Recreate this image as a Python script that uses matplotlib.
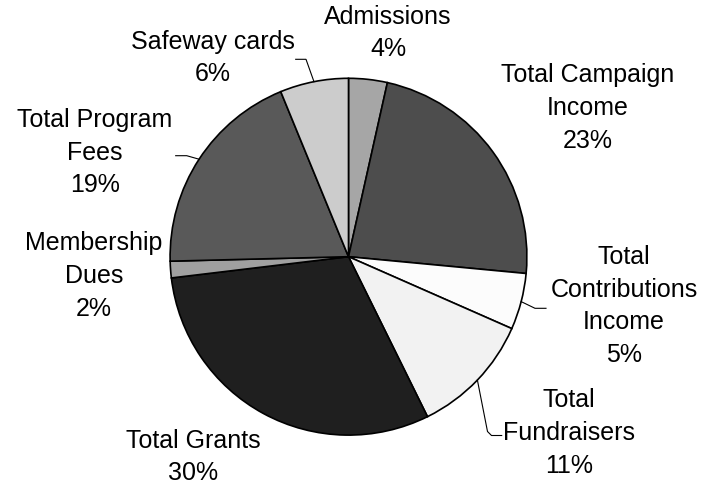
import matplotlib
matplotlib.use("Agg")
import matplotlib.pyplot as plt
import numpy as np

# ---- data ----
categories = ["Admissions", "Total Campaign\nIncome", "Total\nContributions\nIncome",
              "Total\nFundraisers", "Total Grants", "Membership\nDues",
              "Total Program\nFees", "Safeway cards"]
values = [3.5, 23.0, 5.1, 11.1, 30.4, 1.5, 19.2, 6.2]
colors = ["#a6a6a6", "#4d4d4d", "#fcfcfc", "#f2f2f2", "#1f1f1f", "#a0a0a0", "#595959", "#cccccc"]

W, H = 715, 487
fig = plt.figure(figsize=(W / 100, H / 100), dpi=100)
ax = fig.add_axes([0, 0, 1, 1])

def py(y):  # pixel-from-top to data y
    return H - y

cx, cy, r = 348.5, py(256.7), 178.4
wedges, _ = ax.pie(values, colors=colors, startangle=90, counterclock=False,
                   center=(cx, cy), radius=r,
                   wedgeprops=dict(edgecolor="black", linewidth=1.2))
ax.set_xlim(0, W)
ax.set_ylim(0, H)
ax.set_aspect("equal")
ax.axis("off")

# label positions (pixel centre of text block)
label_pos = [(388, 33), (588, 108), (624, 306), (569, 433),
             (193, 457), (94, 276), (95, 152.5), (212.5, 58)]
# leader elbows (None if no leader): list of pixel points after rim point
leaders = [None, None, [(535, 308.3), (546, 308.3)],
           [(487.5, 431.5), (491.5, 435.5), (501.7, 435.5)],
           None, None, [(186.7, 155.7), (175.7, 155.7)],
           [(306, 59.3), (295.7, 59.3)]]

for w, cat, v, (lx, ly), ld in zip(wedges, categories, values, label_pos, leaders):
    pct = f"{int(v + 0.5)}%"
    ax.text(lx, py(ly), f"{cat}\n{pct}", ha="center", va="center",
            fontsize=18, family="Liberation Sans", linespacing=1.46, color="black")
    if ld is not None:
        ang = np.deg2rad((w.theta1 + w.theta2) / 2)
        xs = [cx + r * np.cos(ang)] + [p[0] for p in ld]
        ys = [cy + r * np.sin(ang)] + [py(p[1]) for p in ld]
        ax.plot(xs, ys, color="black", linewidth=0.8)

fig.savefig("out.png", dpi=100)
